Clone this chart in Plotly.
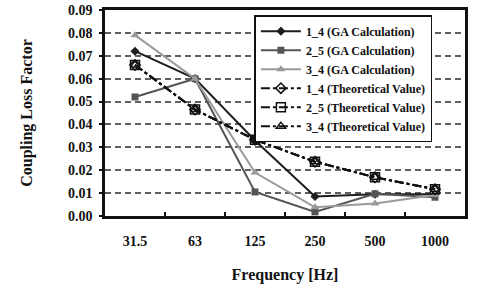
import plotly.graph_objects as go

freqs = ["31.5", "63", "125", "250", "500", "1000"]
ga_14 = [0.072, 0.060, 0.033, 0.0085, 0.0095, 0.0095]
ga_25 = [0.052, 0.060, 0.0105, 0.0018, 0.0097, 0.0082]
ga_34 = [0.079, 0.060, 0.019, 0.0038, 0.0055, 0.0092]
th_14 = [0.066, 0.0465, 0.0333, 0.0237, 0.0169, 0.0117]
th_25 = [0.066, 0.0465, 0.0333, 0.0237, 0.0169, 0.0117]
th_34 = [0.066, 0.0465, 0.0333, 0.0237, 0.0169, 0.0117]
y_ticks = [0.00, 0.01, 0.02, 0.03, 0.04, 0.05, 0.06, 0.07, 0.08, 0.09]

SERIF = "Liberation Serif"

fig = go.Figure()
fig.add_trace(go.Scatter(x=freqs, y=ga_14, name="1_4 (GA Calculation)", mode="lines+markers",
                         line=dict(color="#1e1e1e", width=2), marker=dict(symbol="diamond", size=7, color="#1e1e1e")))
fig.add_trace(go.Scatter(x=freqs, y=ga_25, name="2_5 (GA Calculation)", mode="lines+markers",
                         line=dict(color="#555555", width=2), marker=dict(symbol="square", size=7, color="#555555")))
fig.add_trace(go.Scatter(x=freqs, y=ga_34, name="3_4 (GA Calculation)", mode="lines+markers",
                         line=dict(color="#9a9a9a", width=2), marker=dict(symbol="triangle-up", size=8, color="#9a9a9a")))
fig.add_trace(go.Scatter(x=freqs, y=th_14, name="1_4 (Theoretical Value)", mode="lines+markers",
                         line=dict(color="#111111", width=2, dash="dashdot"),
                         marker=dict(symbol="diamond-open", size=8, color="#111111", line=dict(width=1.5))))
fig.add_trace(go.Scatter(x=freqs, y=th_25, name="2_5 (Theoretical Value)", mode="lines+markers",
                         line=dict(color="#111111", width=2, dash="dashdot"),
                         marker=dict(symbol="square-open", size=9, color="#111111", line=dict(width=1.5))))
fig.add_trace(go.Scatter(x=freqs, y=th_34, name="3_4 (Theoretical Value)", mode="lines+markers",
                         line=dict(color="#111111", width=2, dash="dashdot"),
                         marker=dict(symbol="triangle-up-open", size=8, color="#111111", line=dict(width=1.5))))

fig.update_layout(
    width=477, height=288,
    margin=dict(l=105, r=12, t=3, b=72),
    paper_bgcolor="white", plot_bgcolor="white",
    font=dict(family=SERIF, size=12, color="#111111"),
    showlegend=True,
    legend=dict(x=0.415, y=0.975, xanchor="left", yanchor="top",
                bordercolor="#111111", borderwidth=1.5, bgcolor="white",
                font=dict(family=SERIF, size=12, color="#111111", weight="bold"),
                tracegroupgap=0, itemwidth=40),
    xaxis=dict(
        type="category", range=[-0.5, 5.5],
        showline=True, linecolor="#111111", linewidth=2.5, mirror=True,
        ticks="inside", ticklen=4, tickwidth=1.5, tickcolor="#111111", tickson="boundaries",
        showgrid=False, ticklabelstandoff=10,
        tickfont=dict(family=SERIF, size=14, color="#111111", weight="bold"),
        title=dict(text="Frequency [Hz]", font=dict(family=SERIF, size=16, weight="bold"), standoff=22),
    ),
    yaxis=dict(
        range=[0, 0.09], tickvals=y_ticks, tickformat=".2f",
        showline=True, linecolor="#111111", linewidth=2.5, mirror=True,
        ticks="outside", ticklen=3, tickwidth=1.5, tickcolor="#111111",
        ticklabeloverflow="allow", ticklabelstandoff=4,
        showgrid=True, gridcolor="#606060", gridwidth=1.5, griddash="6px,4px",
        tickfont=dict(family=SERIF, size=14, color="#111111", weight="bold"),
        title=dict(text="Coupling Loss Factor", font=dict(family=SERIF, size=16, weight="bold"), standoff=32),
    ),
)

fig.write_html("out.html")
